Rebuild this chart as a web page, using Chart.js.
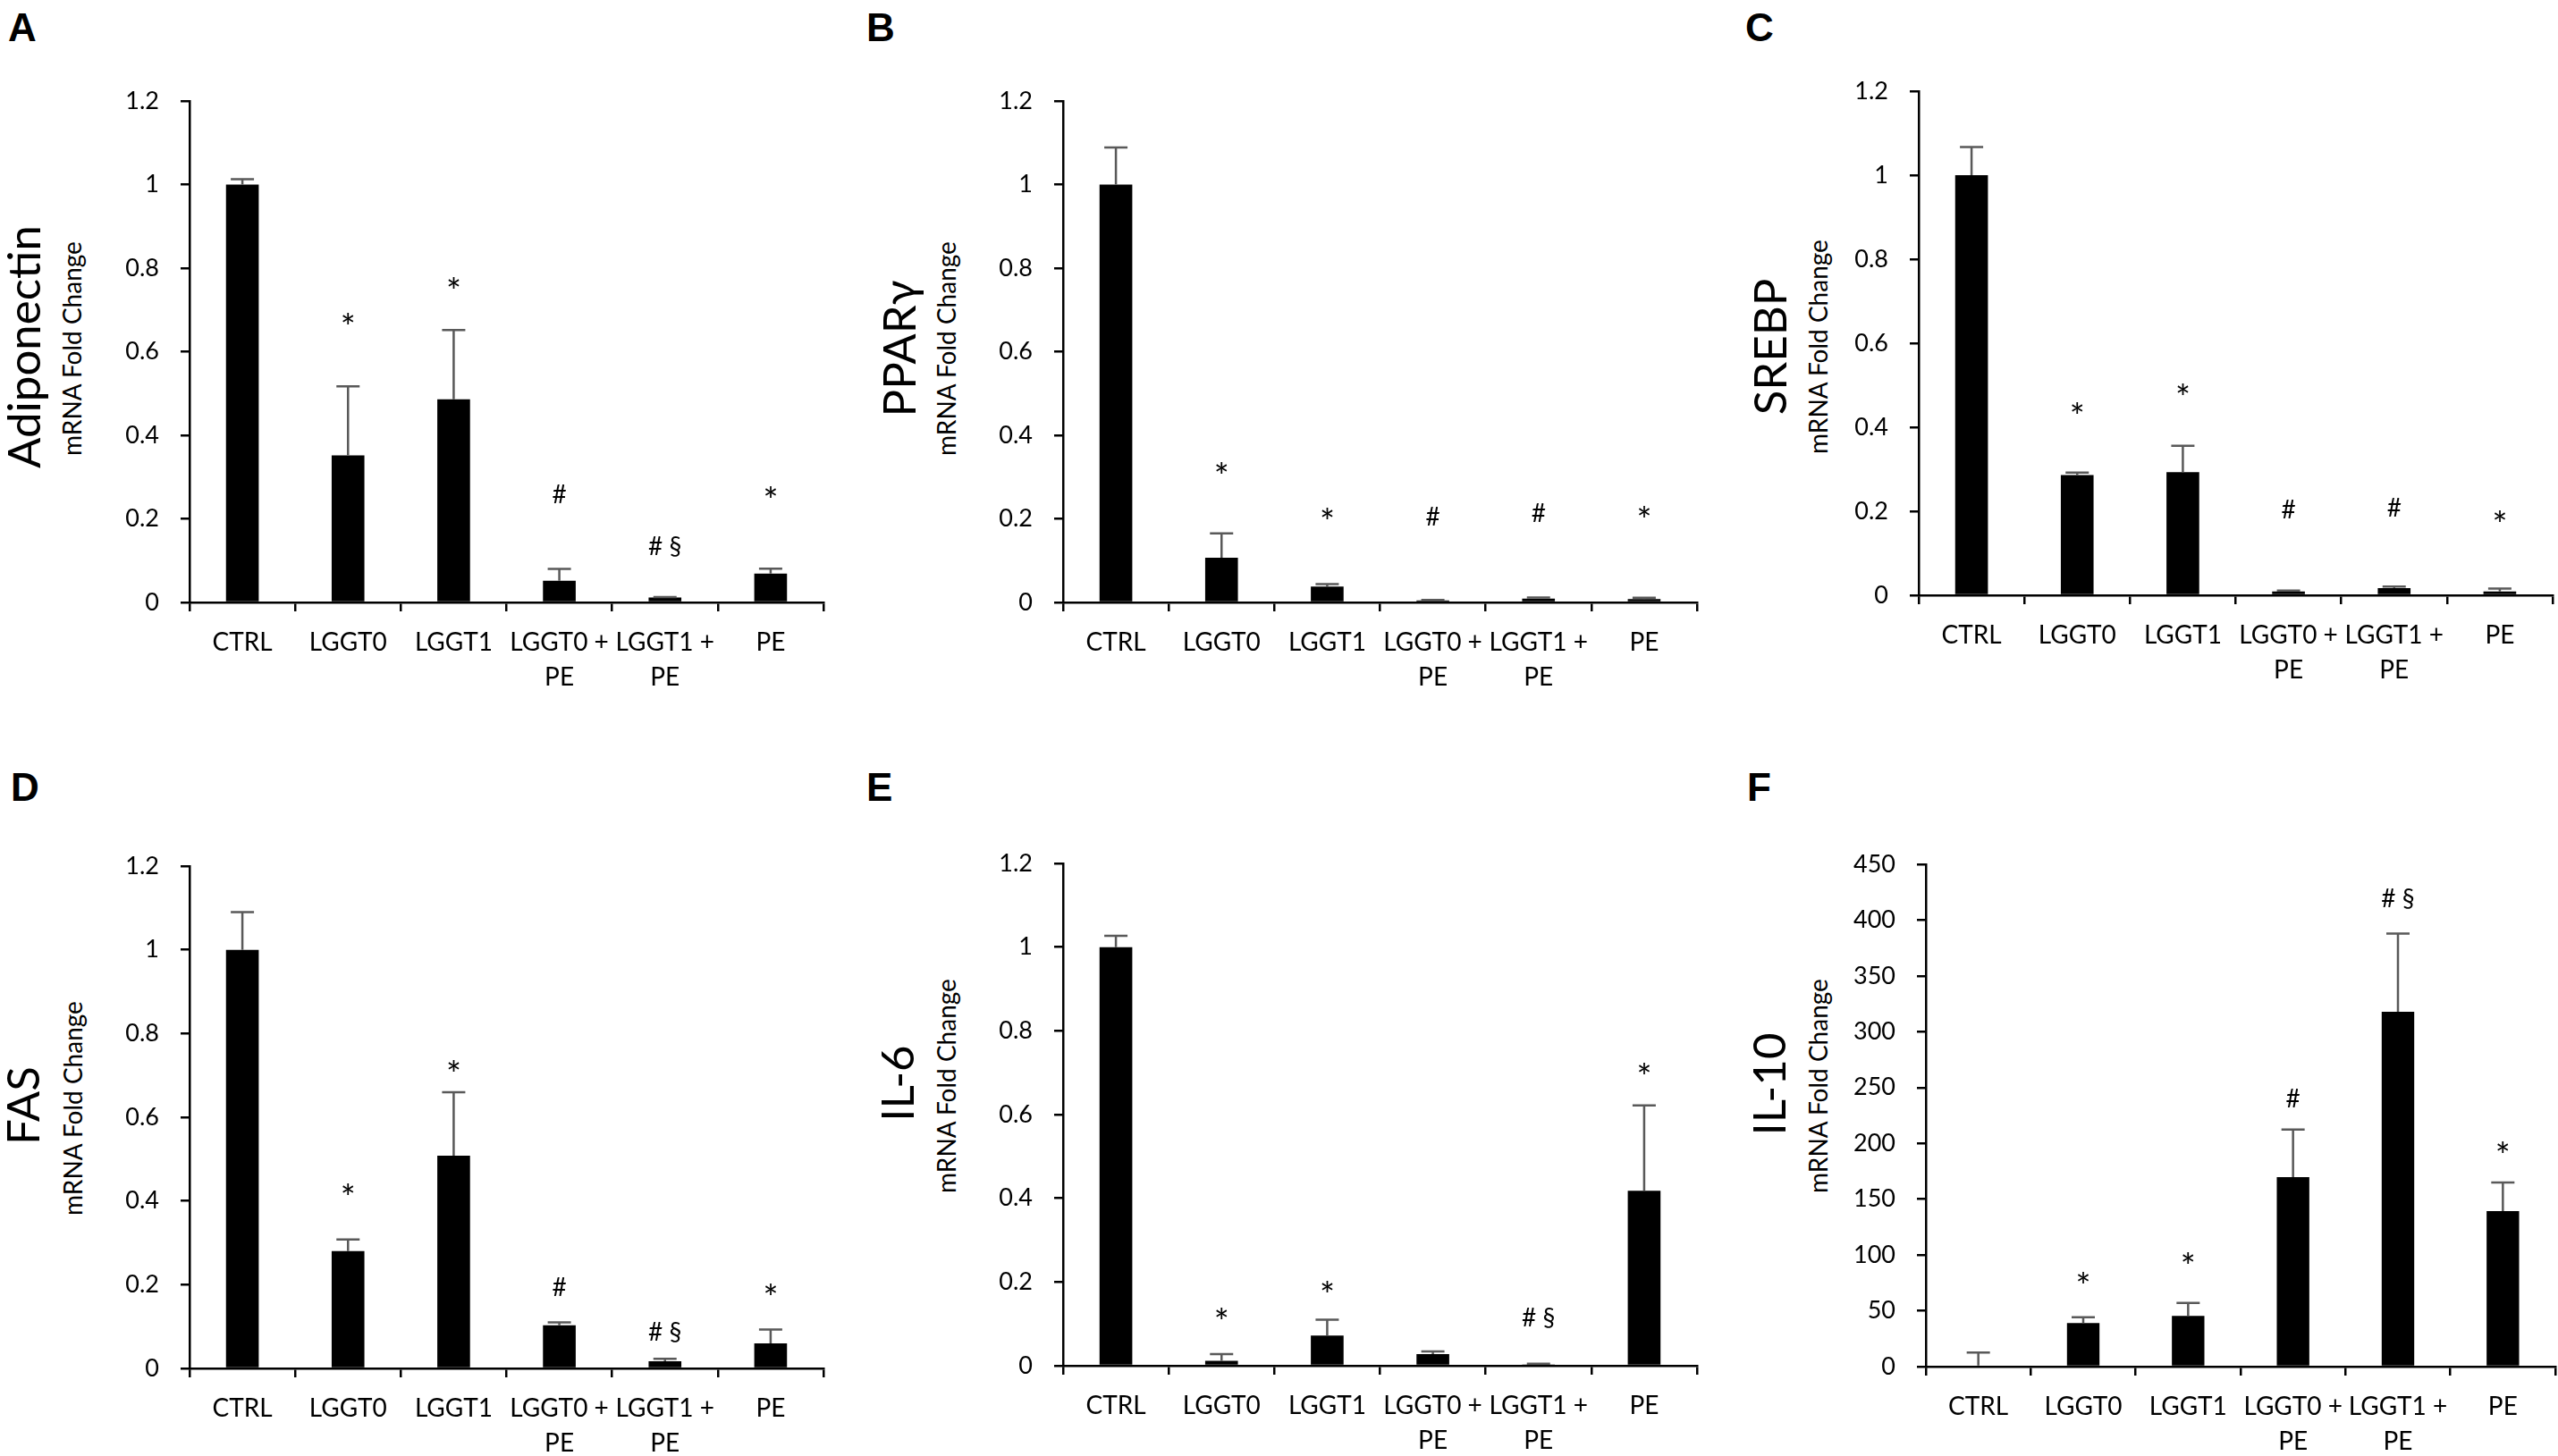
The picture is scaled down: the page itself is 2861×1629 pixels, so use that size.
<!DOCTYPE html>
<html lang="en">
<head>
    <meta charset="UTF-8">
    <title>mRNA Fold Change panels</title>
    <style>
        body {
            margin: 0;
            background: #ffffff;
            overflow: hidden;
            font-family: Lato, sans-serif;
        }
        #page {
            position: relative;
            width: 2861px;
            height: 1629px;
            background: #ffffff;
            overflow: hidden;
        }
        .letter {
            position: absolute;
            font-family: "Liberation Sans", Arial, sans-serif;
            font-weight: bold;
            font-size: 44px;
            line-height: 1;
            color: #000;
        }
        .ttl, .sub {
            position: absolute;
            white-space: nowrap;
            line-height: 1;
            color: #000;
            transform: translate(-50%, -50%) rotate(-90deg);
        }
        .ttl { font-size: 51px; }
        .sub { font-size: 28px; }
        .box { position: absolute; }
    </style>
</head>
<body>
<div id="page"></div>

<script src="https://cdn.jsdelivr.net/npm/chart.js"></script>
<script>
    // categories shared by all six panels
    const categories = ['CTRL', 'LGGT0', 'LGGT1', ['LGGT0 +', 'PE'], ['LGGT1 +', 'PE'], 'PE'];

    // A - Adiponectin
    const adiponectinMean = [1.0, 0.352, 0.486, 0.052, 0.012, 0.069];
    const adiponectinErr = [0.013, 0.165, 0.166, 0.028, 0.001, 0.012];
    const adiponectinSig = ['', '*', '*', '#', '# §', '*'];
    const adiponectinSigAt = [null, 0.68, 0.766, 0.26, 0.134, 0.265];

    // B - PPARγ
    const pparMean = [1.0, 0.107, 0.038, 0.005, 0.009, 0.008];
    const pparErr = [0.089, 0.058, 0.006, 0.001, 0.003, 0.003];
    const pparSig = ['', '*', '*', '#', '#', '*'];
    const pparSigAt = [null, 0.323, 0.213, 0.207, 0.216, 0.219];

    // C - SREBP
    const srebpMean = [1.0, 0.286, 0.293, 0.009, 0.017, 0.009];
    const srebpErr = [0.067, 0.006, 0.063, 0.002, 0.004, 0.007];
    const srebpSig = ['', '*', '*', '#', '#', '*'];
    const srebpSigAt = [null, 0.446, 0.491, 0.205, 0.21, 0.19];

    // D - FAS
    const fasMean = [1.0, 0.28, 0.508, 0.103, 0.017, 0.06];
    const fasErr = [0.09, 0.028, 0.152, 0.007, 0.006, 0.033];
    const fasSig = ['', '*', '*', '#', '# §', '*'];
    const fasSigAt = [null, 0.429, 0.724, 0.195, 0.087, 0.191];

    // E - IL-6
    const il6Mean = [1.0, 0.012, 0.072, 0.028, 0.003, 0.418];
    const il6Err = [0.027, 0.016, 0.038, 0.006, 0.002, 0.204];
    const il6Sig = ['', '*', '*', '', '# §', '*'];
    const il6SigAt = [null, 0.127, 0.189, null, 0.114, 0.71];

    // F - IL-10
    const il10Mean = [1, 39, 45.4, 169.7, 317.8, 139.4];
    const il10Err = [11.7, 5.2, 11.6, 42.6, 70.1, 25.5];
    const il10Sig = ['', '*', '*', '#', '# §', '*'];
    const il10SigAt = [null, 80, 97.6, 241, 419, 197];

    // y axis ranges
    const foldTicks = { max: 1.2, step: 0.2 };
    const il10Ticks = { max: 450, step: 50 };

    Chart.defaults.font.family = 'Lato';
    Chart.defaults.color = '#000';

    const Y_AXIS_W = 110;   // room left of the axis line for tick labels
    const X_AXIS_H = 115;   // room under the axis line for category labels
    const TOP_PAD = 50;

    // error bars + significance marks
    const errorBarPlugin = {
        id: 'errorBars',
        afterDatasetsDraw(chart, args, opts) {
            const ctx = chart.ctx;
            const y = chart.scales.y;
            const meta = chart.getDatasetMeta(0);
            const values = chart.data.datasets[0].data;
            ctx.save();
            ctx.strokeStyle = '#595959';
            ctx.lineWidth = 2.5;
            meta.data.forEach((bar, i) => {
                const y0 = y.getPixelForValue(values[i]);
                const y1 = y.getPixelForValue(values[i] + opts.errors[i]);
                ctx.beginPath();
                ctx.moveTo(bar.x, y0);
                ctx.lineTo(bar.x, y1);
                ctx.moveTo(bar.x - 13, y1);
                ctx.lineTo(bar.x + 13, y1);
                ctx.stroke();
            });
            ctx.fillStyle = '#000';
            ctx.textAlign = 'center';
            ctx.textBaseline = 'alphabetic';
            meta.data.forEach((bar, i) => {
                const s = opts.marks[i];
                if (!s) return;
                // Lato's asterisk is small, draw it a bit larger
                ctx.font = (s === '*' ? '40px' : '28px') + ' Lato';
                const m = ctx.measureText(s);
                const yc = y.getPixelForValue(opts.markAt[i]);
                ctx.fillText(s, bar.x, yc + (m.actualBoundingBoxAscent - m.actualBoundingBoxDescent) / 2);
            });
            ctx.restore();
        }
    };

    const panels = [
        { letter: 'A', title: 'Adiponectin', mean: adiponectinMean, err: adiponectinErr, sig: adiponectinSig, sigAt: adiponectinSigAt, range: foldTicks,
          area: { l: 212, r: 921, t: 113, b: 674 }, letterAt: [9, 15], titleAt: [25, 388], subAt: [80, 390] },
        { letter: 'B', title: 'PPARγ', mean: pparMean, err: pparErr, sig: pparSig, sigAt: pparSigAt, range: foldTicks,
          area: { l: 1189, r: 1898, t: 113, b: 674 }, letterAt: [969, 15], titleAt: [1004, 390], subAt: [1058, 390] },
        { letter: 'C', title: 'SREBP', mean: srebpMean, err: srebpErr, sig: srebpSig, sigAt: srebpSigAt, range: foldTicks,
          area: { l: 2146, r: 2855, t: 102, b: 666 }, letterAt: [1952, 15], titleAt: [1978, 388], subAt: [2033, 388] },
        { letter: 'D', title: 'FAS', mean: fasMean, err: fasErr, sig: fasSig, sigAt: fasSigAt, range: foldTicks,
          area: { l: 212, r: 921, t: 969, b: 1531 }, letterAt: [12, 865], titleAt: [24, 1237], subAt: [81, 1240] },
        { letter: 'E', title: 'IL-6', mean: il6Mean, err: il6Err, sig: il6Sig, sigAt: il6SigAt, range: foldTicks,
          area: { l: 1189, r: 1898, t: 966, b: 1528 }, letterAt: [969, 865], titleAt: [1002, 1212], subAt: [1058, 1215] },
        { letter: 'F', title: 'IL-10', mean: il10Mean, err: il10Err, sig: il10Sig, sigAt: il10SigAt, range: il10Ticks,
          area: { l: 2154, r: 2858, t: 967, b: 1529 }, letterAt: [1954, 865], titleAt: [1977, 1213], subAt: [2033, 1215] }
    ];

    const page = document.getElementById('page');

    function addText(cls, text, x, y) {
        const d = document.createElement('div');
        d.className = cls;
        d.textContent = text;
        d.style.left = x + 'px';
        d.style.top = y + 'px';
        page.appendChild(d);
        return d;
    }

    panels.forEach(p => {
        addText('letter', p.letter, p.letterAt[0], p.letterAt[1] - 6);
        addText('ttl', p.title, p.titleAt[0], p.titleAt[1]);
        addText('sub', 'mRNA Fold Change', p.subAt[0], p.subAt[1]);

        const box = document.createElement('div');
        box.className = 'box';
        box.style.left = (p.area.l - Y_AXIS_W) + 'px';
        box.style.top = (p.area.t - TOP_PAD) + 'px';
        box.style.width = (p.area.r - p.area.l + Y_AXIS_W + 3) + 'px';
        box.style.height = (p.area.b - p.area.t + TOP_PAD + X_AXIS_H) + 'px';
        const canvas = document.createElement('canvas');
        box.appendChild(canvas);
        page.appendChild(box);

        new Chart(canvas.getContext('2d'), {
            type: 'bar',
            data: {
                labels: categories,
                datasets: [{
                    data: p.mean,
                    backgroundColor: '#000',
                    borderWidth: 0,
                    barPercentage: 0.31,
                    categoryPercentage: 1
                }]
            },
            options: {
                responsive: true,
                maintainAspectRatio: false,
                animation: false,
                layout: { padding: { top: TOP_PAD, right: 3, left: 0, bottom: 0 } },
                plugins: {
                    legend: { display: false },
                    tooltip: { enabled: false },
                    errorBars: { errors: p.err, marks: p.sig, markAt: p.sigAt }
                },
                scales: {
                    x: {
                        afterFit: s => { s.height = X_AXIS_H; },
                        grid: { display: true, drawOnChartArea: false, drawTicks: true, tickLength: 10, color: '#000', lineWidth: 2.5, offset: true },
                        border: { display: true, color: '#000', width: 2.5 },
                        ticks: { autoSkip: false, maxRotation: 0, minRotation: 0, padding: 15, font: { size: 28, lineHeight: 1.4 } }
                    },
                    y: {
                        min: 0,
                        max: p.range.max,
                        afterFit: s => { s.width = Y_AXIS_W; },
                        grid: { display: true, drawOnChartArea: false, drawTicks: true, tickLength: 10, color: '#000', lineWidth: 2.5 },
                        border: { display: true, color: '#000', width: 2.5 },
                        ticks: {
                            stepSize: p.range.step,
                            padding: 24,
                            font: { size: 27 },
                            callback: v => String(Number(v.toFixed(2)))
                        }
                    }
                }
            },
            plugins: [errorBarPlugin]
        });
    });
</script>
</body>
</html>
